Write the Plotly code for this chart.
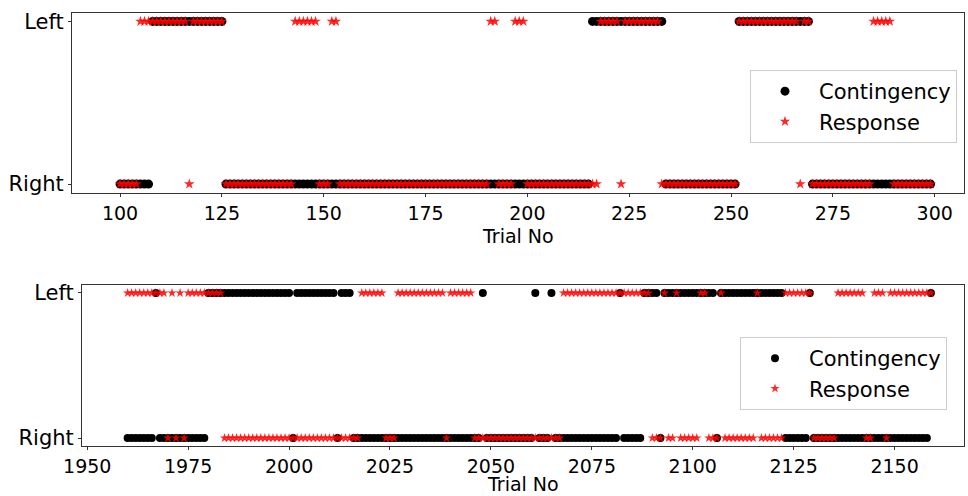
import plotly.graph_objects as go

# Trial ranges of the two sessions
top_first, top_last = 100, 299
bottom_first, bottom_last = 1960, 2159

# Run-length encoded sides: (side, first trial, last trial)
top_contingency_runs = [
    ("Right", 100, 107), ("Left", 108, 125), ("Right", 126, 215),
    ("Left", 216, 233), ("Right", 234, 251), ("Left", 252, 269),
    ("Right", 270, 299),
]
top_response_runs = [
    ("Right", 100, 104), ("Left", 105, 116), ("Right", 117, 117),
    ("Left", 118, 125), ("Right", 126, 142), ("Left", 143, 148),
    ("Right", 149, 151), ("Left", 152, 153), ("Right", 154, 190),
    ("Left", 191, 192), ("Right", 193, 196), ("Left", 197, 199),
    ("Right", 200, 217), ("Left", 218, 222), ("Right", 223, 223),
    ("Left", 224, 232), ("Right", 233, 251), ("Left", 252, 266),
    ("Right", 267, 267), ("Left", 268, 269), ("Right", 270, 284),
    ("Left", 285, 289), ("Right", 290, 299),
]
bottom_contingency_runs = [
    ("Right", 1960, 1966), ("Left", 1967, 1967), ("Right", 1968, 1979),
    ("Left", 1980, 2000), ("Right", 2001, 2001), ("Left", 2002, 2011),
    ("Right", 2012, 2012), ("Left", 2013, 2015), ("Right", 2016, 2047),
    ("Left", 2048, 2048), ("Right", 2049, 2060), ("Left", 2061, 2061),
    ("Right", 2062, 2064), ("Left", 2065, 2065), ("Right", 2066, 2081),
    ("Left", 2082, 2082), ("Right", 2083, 2087), ("Left", 2088, 2091),
    ("Right", 2092, 2092), ("Left", 2093, 2105), ("Right", 2106, 2106),
    ("Left", 2107, 2122), ("Right", 2123, 2128), ("Left", 2129, 2129),
    ("Right", 2130, 2158), ("Left", 2159, 2159),
]
bottom_response_runs = [
    ("Left", 1960, 1969), ("Right", 1970, 1970), ("Left", 1971, 1971),
    ("Right", 1972, 1972), ("Left", 1973, 1973), ("Right", 1974, 1974),
    ("Left", 1975, 1983), ("Right", 1984, 2017), ("Left", 2018, 2023),
    ("Right", 2024, 2026), ("Left", 2027, 2038), ("Right", 2039, 2039),
    ("Left", 2040, 2045), ("Right", 2046, 2067), ("Left", 2068, 2089),
    ("Right", 2090, 2092), ("Left", 2093, 2093), ("Right", 2094, 2095),
    ("Left", 2096, 2096), ("Right", 2097, 2101), ("Left", 2102, 2103),
    ("Right", 2104, 2106), ("Left", 2107, 2107), ("Right", 2108, 2115),
    ("Left", 2116, 2116), ("Right", 2117, 2122), ("Left", 2123, 2129),
    ("Right", 2130, 2135), ("Left", 2136, 2142), ("Right", 2143, 2144),
    ("Left", 2145, 2147), ("Right", 2148, 2148), ("Left", 2149, 2159),
]

side_labels = ["Right", "Left"]
x_label = "Trial No"
top_xticks = [100, 125, 150, 175, 200, 225, 250, 275, 300]
bottom_xticks = [1950, 1975, 2000, 2025, 2050, 2075, 2100, 2125, 2150]


def expand(runs):
    """Decode run-length pairs into per-trial x and side lists."""
    xs, ys = [], []
    for side, a, b in runs:
        for t in range(a, b + 1):
            xs.append(t)
            ys.append(side_labels.index(side))
    return xs, ys


FONT = "DejaVu Sans"
FS = 21
XFS = 19
W, H = 968, 496

fig = go.Figure()

panels = [
    ("x", "y", "legend", top_contingency_runs, top_response_runs, 9, 8),
    ("x2", "y2", "legend2", bottom_contingency_runs, bottom_response_runs, 8, 7),
]
for xa, ya, lg, crun, rrun, csize, rsize in panels:
    cx, cy = expand(crun)
    rx, ry = expand(rrun)
    fig.add_trace(go.Scatter(
        x=cx, y=cy, mode="markers", name="Contingency", xaxis=xa, yaxis=ya,
        legend=lg, marker=dict(color="black", size=csize, symbol="circle",
                               line=dict(width=0)),
    ))
    fig.add_trace(go.Scatter(
        x=rx, y=ry, mode="markers", name="Response", xaxis=xa, yaxis=ya,
        legend=lg, marker=dict(color="rgba(255,0,0,0.85)", size=rsize,
                               symbol="star", line=dict(width=0)),
    ))

axis_common = dict(
    showline=True, linecolor="#333", linewidth=1, mirror=True,
    ticks="outside", ticklen=3, tickcolor="#333", showgrid=False,
    zeroline=False, automargin=False,
)
xtick_font = dict(family=FONT, size=XFS, color="black")
ytick_font = dict(family=FONT, size=FS, color="black")


def px_x(p):
    return p / W


def px_y(p):
    return 1 - p / H


legend_common = dict(
    xanchor="left", yanchor="top", bgcolor="rgba(255,255,255,0.8)",
    bordercolor="#ccc", borderwidth=1, font=dict(family=FONT, size=FS),
    itemwidth=58, tracegroupgap=0,
)

fig.update_layout(
    width=W, height=H, margin=dict(l=0, r=0, t=0, b=0),
    paper_bgcolor="white", plot_bgcolor="white",
    font=dict(family=FONT, size=FS, color="black"),
    xaxis=dict(domain=[px_x(72), px_x(964)], range=[88.2, 307.2],
               tickvals=top_xticks, anchor="y", tickfont=xtick_font,
               **axis_common),
    yaxis=dict(domain=[px_y(193), px_y(12.5)], range=[-0.055, 1.055],
               tickvals=[0, 1], ticktext=side_labels, anchor="x",
               tickfont=ytick_font, **axis_common),
    xaxis2=dict(domain=[px_x(82), px_x(964)], range=[1948.7, 2167.2],
                tickvals=bottom_xticks, anchor="y2", tickfont=xtick_font,
                **axis_common),
    yaxis2=dict(domain=[px_y(446), px_y(285)], range=[-0.055, 1.055],
                tickvals=[0, 1], ticktext=side_labels, anchor="x2",
                tickfont=ytick_font, **axis_common),
    legend=dict(x=px_x(750), y=px_y(70), **legend_common),
    legend2=dict(x=px_x(740), y=px_y(337), **legend_common),
    showlegend=True,
)

# Axis titles placed directly beneath each panel's tick labels
fig.add_annotation(
    text=x_label, xref="paper", yref="paper", x=px_x((72 + 964) / 2),
    y=px_y(248), xanchor="center", yanchor="bottom", showarrow=False,
    borderpad=0, font=dict(family=FONT, size=XFS, color="black"),
)
fig.add_annotation(
    text=x_label, xref="paper", yref="paper", x=px_x((82 + 964) / 2),
    y=0, xanchor="center", yanchor="bottom", showarrow=False,
    borderpad=0, font=dict(family=FONT, size=XFS, color="black"),
)

fig.write_html("out.html")
